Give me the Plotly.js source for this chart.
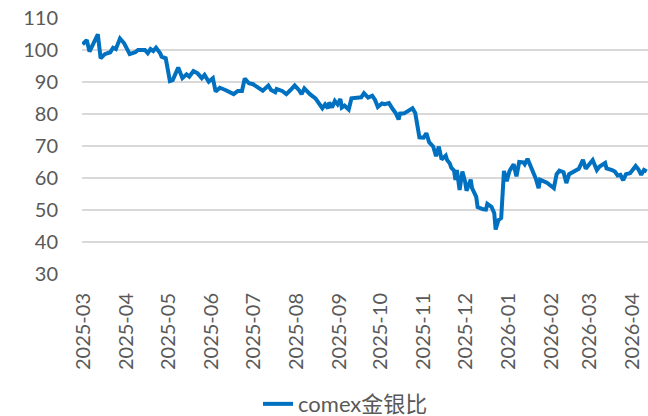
<!DOCTYPE html>
<html>
<head>
<meta charset="utf-8">
<script src="https://cdn.plot.ly/plotly-3.0.1.min.js"></script>
<style>html,body{margin:0;padding:0;background:#fff;}#chart{width:648px;height:416px;}</style>
</head>
<body>
<div id="chart"></div>
<script>
const seriesName = "comex金银比";
const dates = [
"2025-02-28","2025-03-03","2025-03-05","2025-03-08","2025-03-11","2025-03-13","2025-03-16","2025-03-20","2025-03-22","2025-03-24",
"2025-03-27","2025-03-30","2025-04-03","2025-04-07","2025-04-09","2025-04-14","2025-04-16","2025-04-18","2025-04-20","2025-04-22",
"2025-04-25","2025-04-26","2025-04-29","2025-05-02","2025-05-04","2025-05-08","2025-05-11","2025-05-14","2025-05-16","2025-05-19",
"2025-05-22","2025-05-25","2025-05-27","2025-05-30","2025-06-02","2025-06-04","2025-06-07","2025-06-11","2025-06-17","2025-06-20",
"2025-06-23","2025-06-25","2025-06-28","2025-07-01","2025-07-05","2025-07-08","2025-07-12","2025-07-14","2025-07-17","2025-07-18",
"2025-07-22","2025-07-25","2025-07-28","2025-07-31","2025-08-03","2025-08-05","2025-08-07","2025-08-11","2025-08-15","2025-08-18",
"2025-08-20","2025-08-22","2025-08-24","2025-08-25","2025-08-27","2025-08-29","2025-08-31","2025-09-02","2025-09-03","2025-09-05",
"2025-09-08","2025-09-10","2025-09-14","2025-09-17","2025-09-19","2025-09-22","2025-09-25","2025-09-27","2025-09-29","2025-10-02",
"2025-10-04","2025-10-07","2025-10-10","2025-10-12","2025-10-14","2025-10-15","2025-10-18","2025-10-20","2025-10-23","2025-10-24",
"2025-10-26","2025-10-27","2025-10-29","2025-11-01","2025-11-03","2025-11-05","2025-11-08","2025-11-10","2025-11-12","2025-11-14",
"2025-11-17","2025-11-18","2025-11-20","2025-11-21","2025-11-23","2025-11-24","2025-11-25","2025-11-27","2025-11-29","2025-12-01",
"2025-12-02","2025-12-05","2025-12-06","2025-12-09","2025-12-10","2025-12-14","2025-12-16","2025-12-17","2025-12-20","2025-12-22",
"2025-12-23","2025-12-25","2025-12-27","2025-12-29","2025-12-31","2026-01-02","2026-01-05","2026-01-07","2026-01-09","2026-01-12",
"2026-01-13","2026-01-15","2026-01-17","2026-01-19","2026-01-21","2026-01-23","2026-01-24","2026-01-29","2026-02-03","2026-02-05",
"2026-02-07","2026-02-10","2026-02-12","2026-02-14","2026-02-17","2026-02-19","2026-02-21","2026-02-24","2026-02-26","2026-02-28",
"2026-03-03","2026-03-06","2026-03-08","2026-03-12","2026-03-13","2026-03-17","2026-03-19","2026-03-21","2026-03-23","2026-03-25",
"2026-03-27","2026-03-30","2026-04-01","2026-04-03","2026-04-05","2026-04-07","2026-04-09","2026-04-11"
];
const ratio = [
101.8,103.1,99.5,102.6,104.9,97.4,98.7,99.3,100.7,100.3,
103.6,102.1,98.7,99.3,100,100,99,100.3,99.7,100.7,
99,97.9,97.4,90.3,90.6,94.5,91.2,92.4,91.7,93.4,
92.7,91.2,92.2,90.1,91.2,87,88.2,87.5,86.2,87.2,
87.2,91.1,89.6,89.3,88,87.3,88.9,87.5,86.8,87.8,
87.2,86.2,87.5,88.9,87.5,86.2,88,86.2,84.9,83.3,
81.8,83.0,81.8,83.6,82.0,84.1,83.0,84.7,82.0,82.6,
81.4,84.9,84.9,85.2,86.5,85.1,85.7,84.4,82.2,83.3,
83.1,83.4,81.4,80.2,78.3,80.1,80.2,80.8,81.6,81.8,
80.3,78.1,72.7,72.6,74.0,71.2,69.8,66.8,69.8,65.8,
67.0,65.6,64.5,63.2,62.3,59.4,62.5,56.25,62.0,58.8,
56.0,59.5,56.8,54.1,50.9,50.2,50.1,51.9,51.0,49.0,
43.9,46.8,47.5,62.2,59.0,62.2,64.3,60.5,65.0,64.9,
64.3,66.0,64.1,61.8,59.8,56.8,59.5,58.5,56.8,61.2,
62.3,61.8,58.4,61.2,61.8,62.3,62.9,65.7,62.9,64.0,
65.6,62.5,63.6,64.7,63.0,62.5,62.0,60.8,61.0,59.3,
61.2,61.5,62.7,63.75,62.7,61.0,62.5,62.0
];
const yTicks = [30,40,50,60,70,80,90,100,110];

const font = "Lato, 'Noto Sans CJK SC', sans-serif";
const trace = {
  x: dates, y: ratio, type: "scatter", mode: "lines", name: seriesName,
  line: {color: "#0070C0", width: 4}
};
const layout = {
  width: 648, height: 416,
  margin: {l: 82, r: 0, t: 18, b: 142, pad: 0, autoexpand: false},
  paper_bgcolor: "#fff", plot_bgcolor: "#fff",
  font: {family: font, color: "#595959", size: 20},
  showlegend: true,
  legend: {orientation: "h", x: 0.311, xanchor: "left", y: -0.508, yanchor: "middle",
           font: {family: font, size: 22, color: "#595959"}},
  xaxis: {
    type: "date", range: ["2025-02-27 14:00", "2026-04-11 22:00"],
    tick0: "2025-03-01", dtick: "M1", tickformat: "%Y-%m", tickangle: -90,
    showgrid: false, zeroline: false, showline: false, ticks: "",
    automargin: false, ticklabelstandoff: 14,
    tickfont: {family: font, size: 20, color: "#595959"}
  },
  yaxis: {
    range: [30, 110], tickvals: yTicks, showgrid: true, gridcolor: "#D9D9D9", gridwidth: 1.5,
    zeroline: false, showline: false, ticks: "", automargin: false, ticklabelstandoff: 23,
    tickfont: {family: font, size: 20, color: "#595959"}
  }
};
Plotly.newPlot("chart", [trace], layout, {staticPlot: true, displayModeBar: false});
</script>
</body>
</html>
